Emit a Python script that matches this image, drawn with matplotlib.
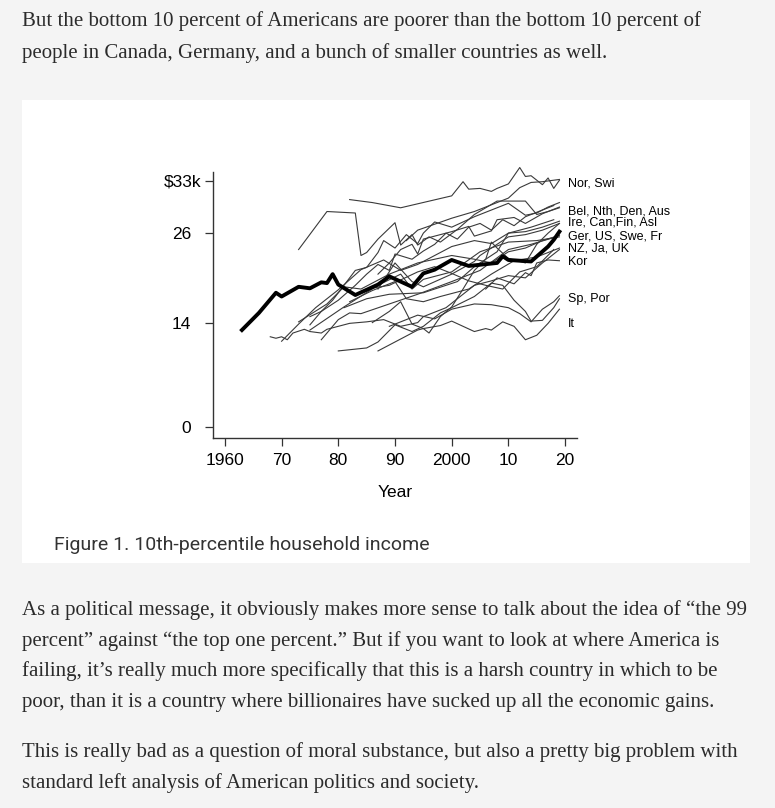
import matplotlib
matplotlib.use('Agg')
import matplotlib.pyplot as plt
from matplotlib.patches import Rectangle

W, H = 775, 808

# 10th-percentile household income, thousands of dollars
us_years = [1963, 1966, 1969, 1970, 1973, 1975, 1977, 1978, 1979, 1980, 1983, 1985, 1987, 1989, 1991, 1993, 1995, 1997, 2000, 2003, 2008, 2009, 2010, 2014, 2017, 2018, 2019]
us_vals = [13.0, 15.3, 18.0, 17.5, 18.8, 18.6, 19.4, 19.3, 20.5, 19.1, 17.7, 18.4, 19.1, 20.2, 19.5, 18.8, 20.6, 21.1, 22.4, 21.6, 22.0, 22.9, 22.4, 22.2, 24.2, 25.1, 26.2]

nor_years = [1982, 1986, 1991, 2000, 2002, 2003, 2005, 2007, 2008, 2010, 2012, 2013, 2014, 2016, 2017, 2018, 2019]
nor_vals = [30.5, 30.1, 29.4, 31.0, 32.9, 31.9, 32.0, 31.6, 32.0, 32.6, 34.8, 33.6, 33.7, 32.5, 33.4, 32.0, 33.1]
swi_years = [1992, 1994, 2000, 2004, 2006, 2010, 2012, 2014, 2016, 2019]
swi_vals = [25.0, 26.4, 28.0, 28.9, 29.5, 30.7, 32.1, 32.8, 32.9, 33.2]
bel_years = [1973, 1978, 1983, 1984, 1985, 1987, 1990, 1991, 1993, 1994, 1996, 1998, 2001, 2004, 2008, 2013, 2015, 2017, 2019]
bel_vals = [23.8, 28.9, 28.7, 23.0, 23.4, 25.2, 27.4, 24.4, 25.8, 24.4, 25.5, 24.8, 26.5, 28.5, 30.3, 30.3, 28.5, 28.9, 29.4]
nth_years = [1975, 1977, 1980, 1983, 1985, 1987, 1989, 1990, 1993, 1995, 1997, 1999, 2001, 2003, 2005, 2007, 2009, 2011, 2013, 2015, 2018]
nth_vals = [14.8, 15.5, 17.0, 19.0, 20.5, 21.8, 21.0, 23.2, 22.5, 23.6, 24.5, 26.0, 25.2, 26.8, 27.3, 26.4, 27.8, 27.0, 28.2, 28.8, 29.7]
den_years = [1975, 1977, 1979, 1981, 1983, 1985, 1987, 1988, 1990, 1992, 1994, 1995, 1997, 2000, 2004, 2007, 2010, 2013, 2015, 2017, 2019]
den_vals = [13.7, 15.5, 17.0, 19.0, 21.0, 21.4, 23.4, 25.0, 24.0, 25.8, 24.6, 26.0, 27.5, 26.8, 28.2, 29.1, 30.0, 28.4, 28.7, 29.5, 30.1]
aus_years = [1987, 1989, 1991, 1993, 1994, 1995, 1997, 2000, 2003, 2004, 2007, 2008, 2011, 2013, 2016, 2019]
aus_vals = [20.5, 22.0, 23.8, 24.5, 23.2, 25.2, 25.6, 26.2, 26.9, 25.6, 26.3, 27.8, 28.1, 27.3, 28.6, 29.5]
ire_years = [1987, 1994, 1995, 1996, 1998, 2000, 2002, 2004, 2006, 2007, 2008, 2010, 2013, 2015, 2017, 2019]
ire_vals = [10.2, 13.0, 13.2, 12.6, 14.8, 16.1, 18.5, 21.0, 22.5, 24.8, 24.0, 22.6, 22.0, 24.5, 26.0, 27.3]
can_years = [1970, 1973, 1976, 1980, 1984, 1988, 1991, 1994, 1997, 2000, 2004, 2007, 2010, 2013, 2016, 2019]
can_vals = [11.5, 13.8, 16.0, 18.4, 21.1, 22.4, 21.0, 21.8, 23.0, 24.2, 25.0, 24.6, 26.0, 26.2, 26.8, 27.6]
fin_years = [1987, 1990, 1993, 1995, 2000, 2004, 2005, 2010, 2013, 2016, 2019]
fin_vals = [18.5, 22.0, 19.5, 18.8, 20.5, 22.2, 23.0, 25.5, 25.8, 26.4, 27.3]
asl_years = [1981, 1985, 1989, 1995, 2001, 2004, 2008, 2010, 2014, 2018]
asl_vals = [16.0, 17.2, 17.8, 18.0, 19.5, 21.5, 23.5, 26.0, 26.8, 27.8]
ger_years = [1973, 1978, 1981, 1984, 1989, 1994, 2000, 2004, 2007, 2010, 2013, 2016, 2019]
ger_vals = [14.1, 16.5, 18.8, 18.5, 20.5, 22.0, 23.0, 22.5, 22.0, 23.5, 24.0, 25.0, 25.7]
swe_years = [1975, 1981, 1987, 1991, 1993, 1995, 2000, 2005, 2010, 2015, 2019]
swe_vals = [13.0, 16.1, 19.0, 20.5, 18.5, 19.8, 20.8, 23.5, 24.8, 25.0, 25.5]
fr_years = [1977, 1978, 1980, 1982, 1984, 1989, 1994, 2000, 2005, 2010, 2014, 2018]
fr_vals = [11.7, 12.6, 14.4, 15.3, 15.2, 16.5, 17.8, 19.5, 21.0, 23.8, 24.5, 25.4]
nz_years = [1982, 1986, 1990, 1992, 1995, 1998, 2003, 2007, 2011, 2015, 2019]
nz_vals = [16.8, 18.3, 19.5, 17.2, 16.8, 17.5, 18.5, 20.5, 22.3, 22.8, 24.0]
ja_years = [1985, 1989, 1994, 1997, 2000, 2003, 2006, 2009, 2012, 2015, 2018]
ja_vals = [18.5, 19.0, 20.8, 21.5, 20.6, 19.6, 19.0, 18.5, 20.8, 21.5, 23.8]
uk_years = [1968, 1969, 1970, 1971, 1972, 1974, 1975, 1977, 1978, 1982, 1985, 1988, 1991, 1994, 1995, 1999, 2004, 2007, 2010, 2013, 2016, 2019]
uk_vals = [12.1, 11.9, 12.1, 11.7, 12.6, 13.1, 12.8, 12.6, 13.1, 13.9, 14.1, 14.4, 13.5, 14.0, 14.8, 16.0, 19.0, 19.6, 20.3, 20.0, 22.0, 23.8]
kor_years = [2006, 2008, 2011, 2013, 2014, 2015, 2017, 2019]
kor_vals = [18.5, 20.0, 19.2, 20.7, 20.3, 22.0, 22.4, 22.3]
sp_years = [1980, 1985, 1987, 1990, 1993, 1995, 1998, 2000, 2004, 2007, 2009, 2011, 2013, 2014, 2016, 2018, 2019]
sp_vals = [10.2, 10.6, 11.4, 13.7, 12.8, 13.5, 15.3, 16.0, 17.5, 19.3, 19.0, 17.0, 15.5, 14.2, 14.3, 16.0, 17.2]
por_years = [1989, 1994, 1997, 2000, 2004, 2007, 2010, 2012, 2014, 2016, 2018, 2019]
por_vals = [13.5, 15.0, 14.5, 15.8, 16.5, 16.4, 16.0, 15.2, 14.1, 15.8, 16.8, 17.6]
it_years = [1986, 1989, 1991, 1993, 1995, 1998, 2000, 2004, 2006, 2007, 2009, 2011, 2013, 2015, 2017, 2019]
it_vals = [14.0, 15.5, 16.8, 13.8, 13.2, 13.6, 14.2, 12.8, 13.2, 13.0, 14.1, 13.5, 11.7, 12.3, 13.9, 15.8]

gray_series = [(nor_years, nor_vals), (swi_years, swi_vals), (bel_years, bel_vals), (nth_years, nth_vals),
               (den_years, den_vals), (aus_years, aus_vals), (ire_years, ire_vals), (can_years, can_vals),
               (fin_years, fin_vals), (asl_years, asl_vals), (ger_years, ger_vals), (swe_years, swe_vals),
               (fr_years, fr_vals), (nz_years, nz_vals), (ja_years, ja_vals), (uk_years, uk_vals),
               (kor_years, kor_vals), (sp_years, sp_vals), (por_years, por_vals), (it_years, it_vals)]

group_labels = ['Nor, Swi', 'Bel, Nth, Den, Aus', 'Ire, Can,Fin, Asl', 'Ger, US, Swe, Fr', 'NZ, Ja, UK', 'Kor', 'Sp, Por', 'It']
group_label_y = [32.7, 28.9, 27.4, 25.6, 23.9, 22.1, 17.1, 13.8]

y_ticks = [0, 14, 26, 33]
y_tick_labels = ['0', '14', '26', '$33k']
x_ticks = [1960, 1970, 1980, 1990, 2000, 2010, 2020]
x_tick_labels = ['1960', '70', '80', '90', '2000', '10', '20']

para1 = ["But the bottom 10 percent of Americans are poorer than the bottom 10 percent of",
         "people in Canada, Germany, and a bunch of smaller countries as well."]
para2 = ["As a political message, it obviously makes more sense to talk about the idea of \u201cthe 99",
         "percent\u201d against \u201cthe top one percent.\u201d But if you want to look at where America is",
         "failing, it\u2019s really much more specifically that this is a harsh country in which to be",
         "poor, than it is a country where billionaires have sucked up all the economic gains."]
para3 = ["This is really bad as a question of moral substance, but also a pretty big problem with",
         "standard left analysis of American politics and society."]

fig = plt.figure(figsize=(W / 100, H / 100), dpi=100)
fig.patch.set_facecolor('#f4f4f4')

# white card behind the chart
fig.patches.append(Rectangle((22 / W, 1 - 563 / H), 728 / W, 463 / H, transform=fig.transFigure,
                             facecolor='white', edgecolor='none', zorder=-1))

# blog text
serif = 'Liberation Serif'
text_color = '#2b2b2b'
body_size = 15.0
for i, line in enumerate(para1):
    fig.text(22 / W, 1 - (21 + 32 * i) / H, line, family=serif, fontsize=body_size, color=text_color, va='center')
for i, line in enumerate(para2):
    fig.text(22 / W, 1 - (610 + 30.7 * i) / H, line, family=serif, fontsize=body_size, color=text_color, va='center')
for i, line in enumerate(para3):
    fig.text(22 / W, 1 - (752 + 30.7 * i) / H, line, family=serif, fontsize=body_size, color=text_color, va='center')

fig.text(54 / W, 1 - 545 / H, 'Figure 1. 10th-percentile household income', family='Roboto',
         fontsize=14, color='#333333', va='center')

# chart
ax = fig.add_axes([213 / W, 1 - 438 / H, 364 / W, 266 / H])
ax.patch.set_alpha(0)
ax.set_xlim(1957.9, 2022.1)
ax.set_ylim(-1.48, 34.2)

for yrs, vals in gray_series:
    ax.plot(yrs, vals, color='#3a3a3a', lw=0.8, clip_on=False)
ax.plot(us_years, us_vals, color='black', lw=2.8, solid_joinstyle='round', clip_on=False)

for lab, yv in zip(group_labels, group_label_y):
    ax.text(2020.5, yv, lab, family='Liberation Sans', fontsize=9, va='center', ha='left', color='black')

for side in ['top', 'right']:
    ax.spines[side].set_visible(False)
for side in ['left', 'bottom']:
    ax.spines[side].set_color('#333333')
    ax.spines[side].set_linewidth(1)

ax.set_yticks(y_ticks)
ax.set_yticklabels(y_tick_labels)
ax.set_xticks(x_ticks)
ax.set_xticklabels(x_tick_labels)
ax.tick_params(direction='out', length=6, width=0.9, color='#333333', labelsize=12.5,
               labelcolor='black')
for lab in ax.get_xticklabels() + ax.get_yticklabels():
    lab.set_family('Liberation Sans')
ax.tick_params(axis='y', pad=9.5)
ax.tick_params(axis='x', pad=5)
ax.yaxis.get_major_ticks()[3].set_pad(2.4)
ax.set_xlabel('Year', family='Liberation Sans', fontsize=12.5, labelpad=12)

fig.savefig('out.png', dpi=100, facecolor=fig.get_facecolor())
